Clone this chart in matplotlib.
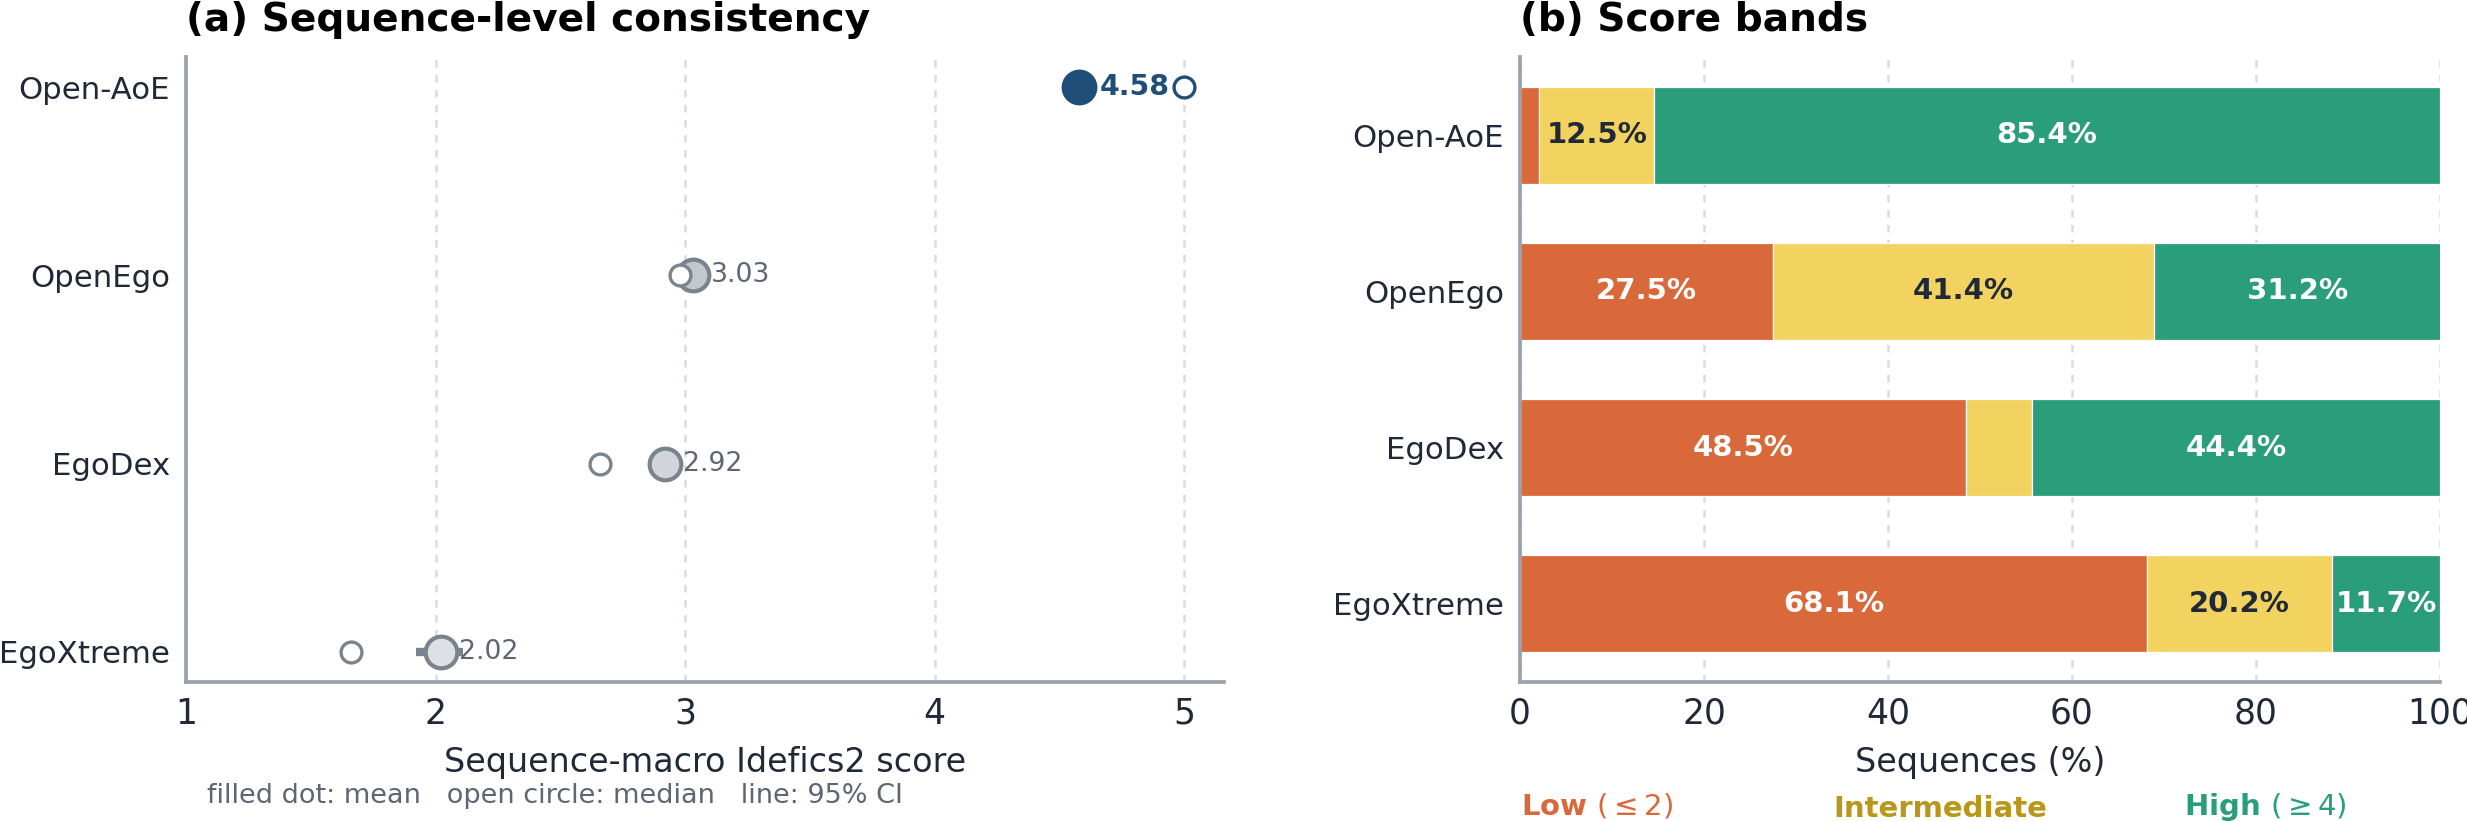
import matplotlib
matplotlib.use("Agg")
import matplotlib.pyplot as plt
import numpy as np

# data
datasets = ["Open-AoE", "OpenEgo", "EgoDex", "EgoXtreme"]
mean_score = [4.58, 3.03, 2.92, 2.02]
median_score = [5.00, 2.98, 2.66, 1.66]
ci_low = [4.54, 2.98, 2.87, 1.92]
ci_high = [4.62, 3.08, 2.97, 2.11]

pct_low = [2.1, 27.5, 48.5, 68.1]
pct_mid = [12.5, 41.4, 7.1, 20.2]
pct_high = [85.4, 31.2, 44.4, 11.7]

# colours
BLUE = "#1f4e79"
GRAY = "#7b838d"
TXT_GRAY = "#5d6672"
DARK = "#1f2937"
SPINE = "#9aa3ad"
GRID = "#d8dce1"
C_LOW = "#d9693b"
C_MID = "#f2d360"
C_HIGH = "#2a9d7a"
C_MID_TXT = "#b8971a"
mean_fill = ["#1f4e79", "#c3c8ce", "#d1d5da", "#dde1e5"]

W, H, DPI = 2467, 821, 300
fig = plt.figure(figsize=(W / DPI, H / DPI), dpi=DPI)

ax1 = fig.add_axes([186 / W, 1 - 682 / H, (1224 - 186) / W, (682 - 57) / H])
ax2 = fig.add_axes([1520 / W, 1 - 682 / H, (2440 - 1520) / W, (682 - 57) / H])


def style(ax):
    for s in ["top", "right"]:
        ax.spines[s].set_visible(False)
    for s in ["left", "bottom"]:
        ax.spines[s].set_color(SPINE)
        ax.spines[s].set_linewidth(0.9)
    ax.tick_params(axis="both", length=0, colors=DARK)
    ax.tick_params(axis="x", labelsize=8.3, pad=3.5)
    ax.tick_params(axis="y", labelsize=7.4, pad=3.8)
    ax.grid(axis="x", color=GRID, linestyle=(0, (3, 3)), linewidth=0.6)
    ax.set_axisbelow(True)


def title(ax, s):
    ax.text(0, 1 + 26 / 625, s, transform=ax.transAxes, ha="left", va="baseline",
            fontsize=9.4, fontweight="bold", color="black")


# ---- (a) dot plot ----
style(ax1)
y = np.arange(len(datasets))
for i in range(len(datasets)):
    hi = i == 0
    edge = BLUE if hi else GRAY
    ms = 8.6 if hi else 7.6
    ax1.plot([ci_low[i], ci_high[i]], [y[i], y[i]], color=edge, lw=2,
             solid_capstyle="butt", zorder=2)
    ax1.plot(mean_score[i], y[i], "o", ms=ms, mfc=mean_fill[i], mec=edge,
             mew=0 if hi else 1.0, zorder=3)
    ax1.plot(median_score[i], y[i], "o", ms=5, mfc="white", mec=edge,
             mew=0.8, zorder=4)
    ax1.annotate(f"{mean_score[i]:.2f}", (mean_score[i], y[i]),
                 xytext=(ms / 2 + 0.6, 0), textcoords="offset points",
                 va="center", ha="left", fontsize=6.8 if hi else 6.4,
                 color=BLUE if hi else TXT_GRAY,
                 fontweight="bold" if hi else "normal", zorder=5)

ax1.set_yticks(y)
ax1.set_yticklabels(datasets)
ax1.set_ylim(3.16, -0.16)
ax1.set_xlim(1, 5.16)
ax1.set_xticks([1, 2, 3, 4, 5])
ax1.set_xlabel("Sequence-macro Idefics2 score", fontsize=8, color=DARK, labelpad=3.8)
title(ax1, "(a) Sequence-level consistency")
fig.text(207 / W, 1 - 803 / H, "filled dot: mean   open circle: median   line: 95% CI",
         fontsize=6.5, color=TXT_GRAY, va="baseline", ha="left")

# ---- (b) stacked bars ----
style(ax2)
bar_h = 0.62
left = np.zeros(len(datasets))
for vals, col, tcol in [(pct_low, C_LOW, "white"), (pct_mid, C_MID, DARK),
                        (pct_high, C_HIGH, "white")]:
    ax2.barh(y, vals, left=left, height=bar_h, color=col, edgecolor="white",
             linewidth=0.3, zorder=2)
    for i, v in enumerate(vals):
        if v >= 10:
            ax2.text(left[i] + v / 2, y[i], f"{v:.1f}%", ha="center", va="center",
                     fontsize=7, fontweight="bold", color=tcol, zorder=3)
    left = left + np.array(vals)

ax2.set_yticks(y)
ax2.set_yticklabels(datasets)
ax2.set_ylim(3.5, -0.5)
ax2.set_xlim(0, 100)
ax2.set_xticks([0, 20, 40, 60, 80, 100])
ax2.set_xlabel("Sequences (%)", fontsize=8, color=DARK, labelpad=3.8)
title(ax2, "(b) Score bands")

fig.text(1521 / W, 1 - 815 / H, r"Low $(\leq 2)$", color=C_LOW, fontsize=7,
         fontweight="bold", va="baseline", ha="left")
fig.text(1833 / W, 1 - 817 / H, "Intermediate", color=C_MID_TXT, fontsize=7,
         fontweight="bold", va="baseline", ha="left")
fig.text(2184 / W, 1 - 815 / H, r"High $(\geq 4)$", color=C_HIGH, fontsize=7,
         fontweight="bold", va="baseline", ha="left")

fig.savefig("out.png", dpi=DPI)
